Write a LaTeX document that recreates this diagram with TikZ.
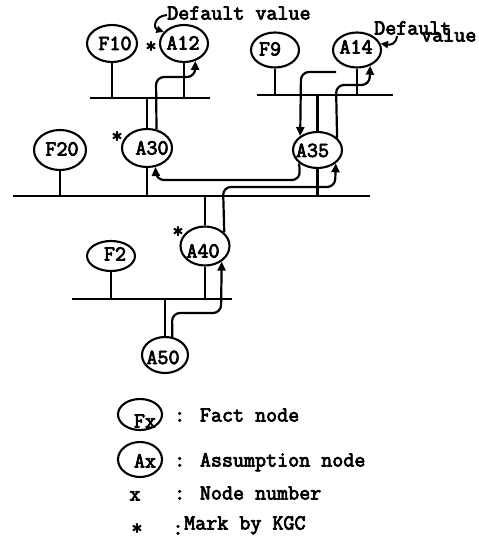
\documentclass[tikz,border=0pt]{standalone}
\usepackage{fontspec}
\usetikzlibrary{arrows.meta,shapes.geometric}
\newfontfamily\twface[FakeBold=3.5]{Latin Modern Mono}
\newcommand{\twfont}{\fontsize{21.5}{21.5}\selectfont\twface}
\begin{document}
\begin{tikzpicture}[x=1bp,y=-1bp,
  link/.style={line width=2.2bp},
  arr/.style={line width=2.2bp, rounded corners=8bp, -{Triangle[length=9bp,width=8bp]}},
  hook/.style={line width=2bp, -{Triangle[length=7.5bp,width=7bp]}},
  ell/.style={draw, ellipse, line width=2.1bp, inner sep=0pt},
  txt/.style={font=\twfont, inner sep=0pt, text height=13bp, text depth=0pt},
  starmark/.style={font=\twfont, inner sep=0pt}
]
\useasboundingbox (0,0) rectangle (479,556);

% ---------- nodes: upper level ----------
\node[ell, minimum width=50bp, minimum height=37bp] (F10) at (112,43.5) {};
\node[txt] (F10t) at (115,43.5) {F10};
\node[ell, minimum width=48bp, minimum height=37bp] (A12) at (184,43.5) {};
\node[txt] (A12t) at (183,43) {A12};
\node[starmark] (s12) at (151,47) {*};

\node[ell, minimum width=48bp, minimum height=35bp] (F9) at (275,50) {};
\node[txt] (F9t) at (270,49) {F9};
\node[ell, minimum width=48bp, minimum height=35bp] (A14) at (357,50) {};
\node[txt] (A14t) at (356,47) {A14};

% ---------- nodes: middle level ----------
\node[ell, minimum width=52bp, minimum height=40bp] (F20) at (60,150) {};
\node[txt] (F20t) at (62,149) {F20};
\node[ell, minimum width=50bp, minimum height=38bp] (A30) at (147,148) {};
\node[txt] (A30t) at (152,148) {A30};
\node[starmark] (s30) at (117,137) {*};
\node[ell, minimum width=49bp, minimum height=36bp] (A35) at (317.5,150) {};
\node[txt] (A35t) at (312.5,150.5) {A35};

% ---------- nodes: lower level ----------
\node[ell, minimum width=48bp, minimum height=30bp] (F2) at (111,256) {};
\node[txt] (F2t) at (115,254) {F2};
\node[ell, minimum width=49bp, minimum height=39bp] (A40) at (205,246) {};
\node[txt] (A40t) at (203,251) {A40};
\node[starmark] (s40) at (178,232) {*};
\node[ell, minimum width=46bp, minimum height=36bp] (A50) at (165,355) {};
\node[txt] (A50t) at (163,357.5) {A50};

% ---------- justification bars ----------
\coordinate (t1) at (90,98);   \coordinate (t2) at (210,98);
\coordinate (u1) at (257,95);  \coordinate (u2) at (393,95);
\coordinate (m1) at (13,196);  \coordinate (m2) at (370,196);
\coordinate (b1) at (72,299);  \coordinate (b2) at (232,299);
\draw[link] (t1) -- (t2);
\draw[link] (u1) -- (u2);
\draw[link] (m1) -- (m2);
\draw[link] (b1) -- (b2);

% stems from nodes to bars
\draw[link] (F10.south) -- (F10.south |- t1);
\draw[link] (A12.south) -- (A12.south |- t1);
\draw[link] (A30.north) -- (A30.north |- t1);
\draw[link] (F9.south) -- (F9.south |- u1);
\draw[link] (A14.south) -- (A14.south |- u1);
\draw[link] (A35.north) -- (A35.north |- u1);
\draw[link] (F20.south) -- (F20.south |- m1);
\draw[link] (A30.south) -- (A30.south |- m1);
\draw[link] (A35.south) -- (A35.south |- m1);
\draw[link] (A40.north) -- (A40.north |- m1);
\draw[link] (F2.south) -- (F2.south |- b1);
\draw[link] (A40.south) -- (A40.south |- b1);
\draw[link] (A50.north) -- (A50.north |- b1);

% ---------- dependency arrows ----------
\draw[arr] (A30.63) -- (156,77) -- (195,77) -- (A12.-57);
\draw[arr] (A35.32) -- (336,85) -- (369.5,85) -- (A14.-50);
\coordinate (c14) at (336,72);
\draw[arr] (c14) -- (301,72) -- (A35.141);
\draw[arr] (A35.216) -- (300,180) -- (156,180) -- (A30.-66);
\draw[arr] (A40.35) -- (223,187) -- (335,187) -- (A35.-36);
\draw[arr] (A50.68) -- (172,313) -- (221,313) -- (A40.-43);

% ---------- default value notes ----------
\node[txt, anchor=west] (dv1) at (167,13) {Default value};
\draw[hook] ([shift={(0,2)}]dv1.west) .. controls (154,16) and (153,28) .. (A12.150);
\node[txt, anchor=west] (dv2) at (374,28) {Default};
\node[txt, anchor=west] (dv3) at (421,35) {value};
\draw[hook] ([shift={(23,8)}]dv2.west) .. controls (396,44) and (391,45) .. (A14.15);

% ---------- legend ----------
\node[ell, minimum width=44bp, minimum height=31bp] (lf) at (140,414.5) {};
\node[txt] (lft) at (145,421) {Fx};
\node[txt, anchor=west] (lf2) at (174,415) {: Fact node};
\node[ell, minimum width=44bp, minimum height=35bp] (la) at (140,459.5) {};
\node[txt] (lat) at (145,461) {Ax};
\node[txt, anchor=west] (la2) at (174,460) {: Assumption node};
\node[txt] (lx) at (135,494) {x};
\node[txt, anchor=west] (ln) at (174,493) {: Node number};
\node[starmark] (ls) at (137,529) {*};
\node[txt] (lc) at (178,528) {:};
\node[txt, anchor=west] (lm) at (184,523) {Mark by KGC};
\end{tikzpicture}
\end{document}
